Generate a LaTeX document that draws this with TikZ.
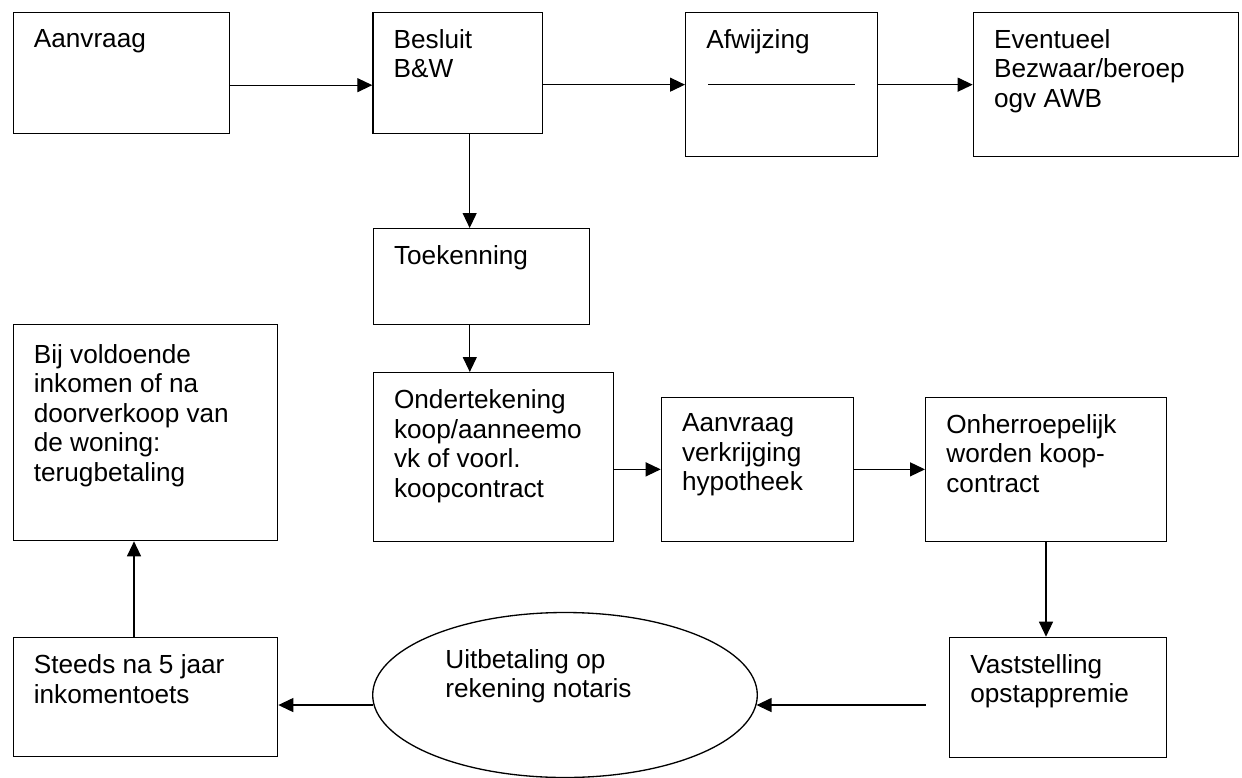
\documentclass[tikz,border=0pt]{standalone}
\usepackage{fontspec}
\setmainfont{Liberation Sans}
\usetikzlibrary{arrows.meta,shapes.geometric}
\newlength{\px}
\setlength{\px}{0.02cm}
\tikzset{
  box/.style={draw, line width=0.75pt, rectangle, inner sep=0pt, anchor=north west},
  txt/.style={inner sep=0pt, anchor=north west, align=left, font=\fontsize{14.9}{16.8}\selectfont},
  arr/.style={line width=0.7pt, -{Triangle[length=3mm,width=2.8mm]}},
}

\begin{document}
\begin{tikzpicture}[x=0.02cm, y=-0.02cm]
        \useasboundingbox (0,0) rectangle (1242,778);

        % Nodes
        \node (aanvraag) at (12.5,12) [box, minimum width=216.5\px, minimum height=121\px] {};
        \node (besluit) at (372.3,12) [box, minimum width=169.4\px, minimum height=121\px] {};
        \node (afwijzing) at (685,12) [box, minimum width=192\px, minimum height=144\px] {};
        \node (eventueel) at (972.7,12) [box, minimum width=265\px, minimum height=144\px] {};
        \node (toekenning) at (372.7,228) [box, minimum width=216.3\px, minimum height=96\px] {};
        \node (ondertekening) at (372.7,372) [box, minimum width=240.3\px, minimum height=168.7\px] {};
        \node (hypotheek) at (660.7,396.7) [box, minimum width=192.3\px, minimum height=144\px] {};
        \node (onherroepelijk) at (925,396.7) [box, minimum width=240.7\px, minimum height=144\px] {};
        \node (vaststelling) at (949,636.7) [box, minimum width=216.7\px, minimum height=120\px] {};
        \node (terugbetaling) at (12.5,324) [box, minimum width=264.5\px, minimum height=216\px] {};
        \node (inkomentoets) at (12.5,636.7) [box, minimum width=264.5\px, minimum height=119.3\px] {};
        \node (uitbetaling) at (565,695) [draw, line width=0.75pt, ellipse, inner sep=0pt, minimum width=384.6\px, minimum height=165\px] {};
        \coordinate (vast-in) at (925.7,708);

        % Texts
        \node (aanvraag-t) at ([shift={(21,17)}]aanvraag.north west) [txt] {Aanvraag};
        \node (besluit-t) at ([shift={(21,17)}]besluit.north west) [txt] {Besluit\\B\&W};
        \node (afwijzing-t) at ([shift={(21,17)}]afwijzing.north west) [txt] {Afwijzing};
        \node (eventueel-t) at ([shift={(21,17)}]eventueel.north west) [txt] {Eventueel\\Bezwaar/beroep\\ogv AWB};
        \node (toekenning-t) at ([shift={(21,17.5)}]toekenning.north west) [txt] {Toekenning};
        \node (ondertekening-t) at ([shift={(21,17.5)}]ondertekening.north west) [txt] {Ondertekening\\koop/aanneemo\\vk of voorl.\\koopcontract};
        \node (hypotheek-t) at ([shift={(21,16.5)}]hypotheek.north west) [txt] {Aanvraag\\verkrijging\\hypotheek};
        \node (onherroepelijk-t) at ([shift={(21,17)}]onherroepelijk.north west) [txt] {Onherroepelijk\\worden koop-\\contract};
        \node (vaststelling-t) at ([shift={(21,17)}]vaststelling.north west) [txt] {Vaststelling\\opstappremie};
        \node (terugbetaling-t) at ([shift={(21,20)}]terugbetaling.north west) [txt] {Bij voldoende\\inkomen of na\\doorverkoop van\\de woning:\\terugbetaling};
        \node (inkomentoets-t) at ([shift={(21,17.5)}]inkomentoets.north west) [txt] {Steeds na 5 jaar\\inkomentoets};
        \node (uitbetaling-t) at (445,649) [txt] {Uitbetaling op\\rekening notaris};

        % Edges
        \draw[arr] ([yshift=-12\px]aanvraag.east) -- ([yshift=-12\px]besluit.west);
        \draw[arr] (afwijzing.west -| besluit.east) -- (afwijzing.west);
        \draw[line width=0.7pt] ([xshift=23\px]afwijzing.west) -- ([xshift=-23\px]afwijzing.east);
        \draw[arr] (afwijzing.east) -- (eventueel.west);
        \draw[arr] ([xshift=12\px]besluit.south) -- ([xshift=12\px]besluit.south |- toekenning.north);
        \draw[arr] ([xshift=-11.7\px]toekenning.south) -- ([xshift=-11.7\px]toekenning.south |- ondertekening.north);
        \draw[arr] (hypotheek.west -| ondertekening.east) -- (hypotheek.west);
        \draw[arr] (hypotheek.east) -- (onherroepelijk.west);
        \draw[arr] (onherroepelijk.south) -- (onherroepelijk.south |- vaststelling.north);
        \draw[arr] (vast-in |- uitbetaling.-3.9) -- (uitbetaling.-3.9);
        \draw[arr] (uitbetaling.183.9) -- (uitbetaling.183.9 -| inkomentoets.east);
        \draw[arr] ([xshift=-11.4\px]inkomentoets.north) -- ([xshift=-11.4\px]inkomentoets.north |- terugbetaling.south);
\end{tikzpicture}
\end{document}
